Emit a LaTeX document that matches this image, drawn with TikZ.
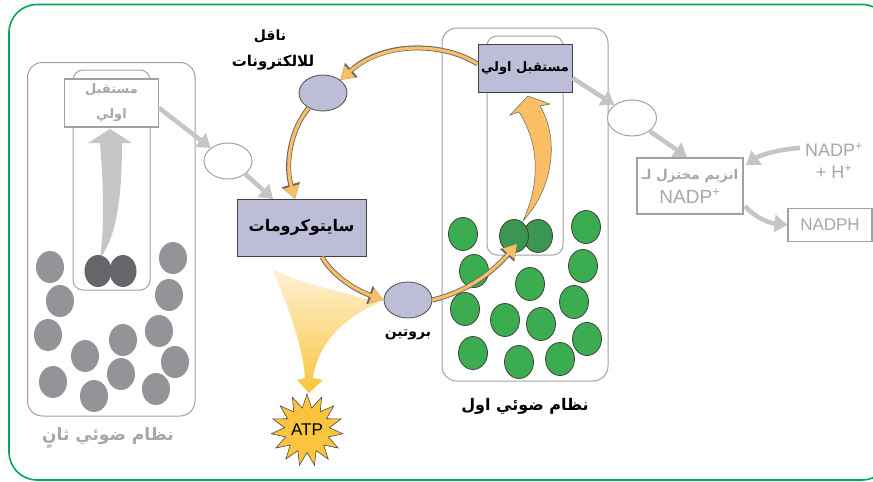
\documentclass[tikz,border=0pt]{standalone}
\usepackage{fontspec}
\usetikzlibrary{arrows.meta,shapes.geometric,shapes.misc,shadings,calc}
\setmainfont{Liberation Sans}
\newfontfamily\arabicfont[Script=Arabic]{DejaVu Sans}
\TeXXeTstate=1
\definecolor{frameg}{RGB}{0,168,89}
\definecolor{grayl}{RGB}{196,198,198}
\definecolor{grayt}{RGB}{165,167,168}
\definecolor{boxg}{RGB}{160,162,162}
\definecolor{lav}{RGB}{190,189,215}
\definecolor{org}{RGB}{250,190,100}
\definecolor{grn}{RGB}{60,172,80}
\definecolor{dgrn}{RGB}{58,150,80}
\definecolor{gdot}{RGB}{146,148,152}
\definecolor{gdk}{RGB}{100,102,106}
\definecolor{yel}{RGB}{250,196,60}
\definecolor{palep}{RGB}{255,242,215}
\newcommand{\ar}[1]{\arabicfont\beginR #1\endR}
\tikzset{
 x=1pt,y=-1pt,
 panel/.style={draw=boxg,line width=1pt,rounded corners=#1},
 graybox/.style={draw=boxg,fill=white,line width=1.1pt,text=grayt,align=center,inner sep=0pt},
 lavbox/.style={draw=black!75,fill=lav,line width=1pt,inner sep=0pt,align=center,text=black},
 oval/.style={ellipse,minimum width=48pt,minimum height=36pt,inner sep=0pt},
 lavoval/.style={oval,draw=black!70,fill=lav,line width=.8pt},
 whoval/.style={oval,draw=boxg,fill=white,line width=1pt},
 gd/.style={ellipse,minimum width=28pt,minimum height=32pt,inner sep=0pt,fill=gdot,draw=none},
 gc/.style={ellipse,minimum width=29pt,minimum height=33pt,inner sep=0pt,fill=grn,draw=black!75,line width=.8pt},
 garrow/.style={draw=grayl,line width=4.5pt,-{Triangle[length=13pt,width=17pt]}},
 oarrow/.style={draw=black!60,line width=5pt,-{Triangle[length=15pt,width=18pt]}},
 oinner/.style={draw=org,line width=3.2pt,-{Triangle[length=13pt,width=15pt]}},
 lbl/.style={font=\bfseries\fontsize{15}{18}\selectfont,align=center,inner sep=0pt},
 glbl/.style={font=\bfseries\fontsize{17}{20}\selectfont,text=grayt,align=center,inner sep=0pt},
}
\begin{document}
\begin{tikzpicture}
\useasboundingbox (0,0) rectangle (873,482);
\fill[white] (0,0) rectangle (873,482);
\draw[frameg,line width=1.6pt,rounded corners=28pt] (9,4.5) rectangle (890,480);
% PS II
\draw[panel=15pt] (27.5,62.5) rectangle (195,416);
\draw[panel=10pt] (73,70) rectangle (150,290);
\node[graybox,minimum width=94pt,minimum height=48pt,font=\bfseries\fontsize{13}{25}\selectfont] (a2) at (111.5,103) {\ar{مستقبل}\\\ar{اولي}};
\fill[grayl] (100,258) .. controls (104,235) and (104,190) .. (100,143) -- (88,143) -- (110,129) -- (132,143) -- (122,143) .. controls (122,190) and (118,235) .. (100,258) -- cycle;
\foreach \n/\x/\y in {g1/50/267,g2/60/301,g3/48/335,g4/85/356,g5/123/340,g6/53/382,g7/94/396,g8/121/374,g9/156/389,g10/159/331,g11/175/362,g12/169/295,g13/173/258}
  \node[gd] (\n) at (\x,\y) {};
\node[gd,fill=gdk,minimum width=27pt] (gm1) at (98,271) {};
\node[gd,fill=gdk,minimum width=27pt] (gm2) at (123,271) {};
\node[glbl] (t2) at (108,438) {\ar{نظام ضوئي ثانٍ}};
% PS I
\draw[panel=15pt] (442,28) rectangle (608,381);
\draw[panel=10pt] (487,36) rectangle (563,255);
\foreach \n/\x/\y in {c1/463/234,c2/586/227,c3/474/271,c4/583/266,c5/530/284,c6/574/302,c7/465/309,c8/505/320,c9/541/324,c10/587/339,c11/473/353,c12/519/362,c13/560/359}
  \node[gc] (\n) at (\x,\y) {};
\node[gc,fill=dgrn] (m2) at (538,236) {};
\node[gc,fill=dgrn] (m1) at (514,236) {};
\node[lavbox,minimum width=94pt,minimum height=48pt,font=\bfseries\fontsize{13}{15}\selectfont] (a1) at (525,68) {\ar{مستقبل اولي}};
\filldraw[fill=org,draw=black!60,line width=.5pt] (523,221) .. controls (537,190) and (543,150) .. (519,112) -- (510,115) -- (528,96) -- (550,104) -- (540,106) .. controls (558,135) and (556,185) .. (523,221) -- cycle;
% cycle nodes
\node[lavoval] (carrier) at (323,93) {};
\node[lavbox,minimum width=129pt,minimum height=57pt,font=\bfseries\fontsize{16}{18}\selectfont] (cyt) at (301.5,227.5) {\ar{سايتوكرومات}};
\coordinate (cytb) at (322,257);
\coordinate (cytt) at (295,199);
\node[lavoval] (prot) at (408,300) {};
\coordinate (m1t) at (517,244);
% ATP
\shade[top color=palep,bottom color=yel] (272,268) .. controls (300,285) and (340,290) .. (378,303) .. controls (340,320) and (318,345) .. (313,378) -- (323,380) -- (309,393) -- (297,380) -- (305,378) .. controls (302,340) and (285,300) .. (272,268) -- cycle;
\foreach \s in {oarrow,oinner}{
  \draw[\s] (a1.west) ++(0,-4) .. controls (445,43) and (385,40) .. (carrier.north east);
  \draw[\s] (carrier.south west) ++(3,2) .. controls (290,130) and (285,165) .. (cytt);
  \draw[\s] (cytb) .. controls (332,275) and (355,290) .. (prot.west);
  \draw[\s] (prot.east) .. controls (465,292) and (490,275) .. (m1t);
}
\node[star,star points=15,star point ratio=1.6,fill=yel,draw=black!70,line width=.6pt,minimum size=64pt,inner sep=0pt,font=\fontsize{17}{20}\selectfont] (atp) at (307,430) {ATP};
% right side
\node[whoval] (w2) at (228,161) {};
\coordinate (cytg) at (273,199);
\draw[garrow] (a2.east) ++(0,5) -- (w2.north west);
\draw[garrow] (w2.south east) -- (cytg);
\node[whoval,minimum width=49pt] (w1) at (632,118) {};
\draw[garrow] (a1.east) ++(0,10) -- (w1.north west);
\node[graybox,minimum width=106pt,minimum height=56pt,font=\bfseries\fontsize{13.5}{24}\selectfont] (enz) at (690,186) {\ar{انزيم مختزل لـ}\\\mdseries\fontsize{19}{24}\selectfont NADP\textsuperscript{+}};
\coordinate (enzt) at (687,157);
\draw[garrow] (w1.south east) -- (enzt);
\node[glbl,font=\fontsize{18}{22}\selectfont] (nadp) at (834,161) {NADP\textsuperscript{+}\\+ H\textsuperscript{+}};
\node[graybox,minimum width=84pt,minimum height=33pt,font=\fontsize{17}{19}\selectfont] (nadph) at (830,225) {NADPH};
\coordinate (nadps) at (800,148);
\coordinate (enze) at (746,165);
\coordinate (enzo) at (745,206);
\draw[garrow] (nadps) .. controls (780,149) and (760,155) .. (enze);
\draw[garrow] (enzo) .. controls (755,218) and (770,223) .. (nadph.west);
% labels
\node[lbl,font=\bfseries\fontsize{14}{18}\selectfont] (l1) at (270,36) {\ar{ناقل}};
\node[lbl] (l2) at (273,63) {\ar{للالكترونات}};
\node[lbl,font=\bfseries\fontsize{14}{18}\selectfont] (l3) at (408,335) {\ar{بروتين}};
\node[lbl,font=\bfseries\fontsize{16}{18}\selectfont] (l4) at (525,406) {\ar{نظام ضوئي اول}};
\end{tikzpicture}
\end{document}
